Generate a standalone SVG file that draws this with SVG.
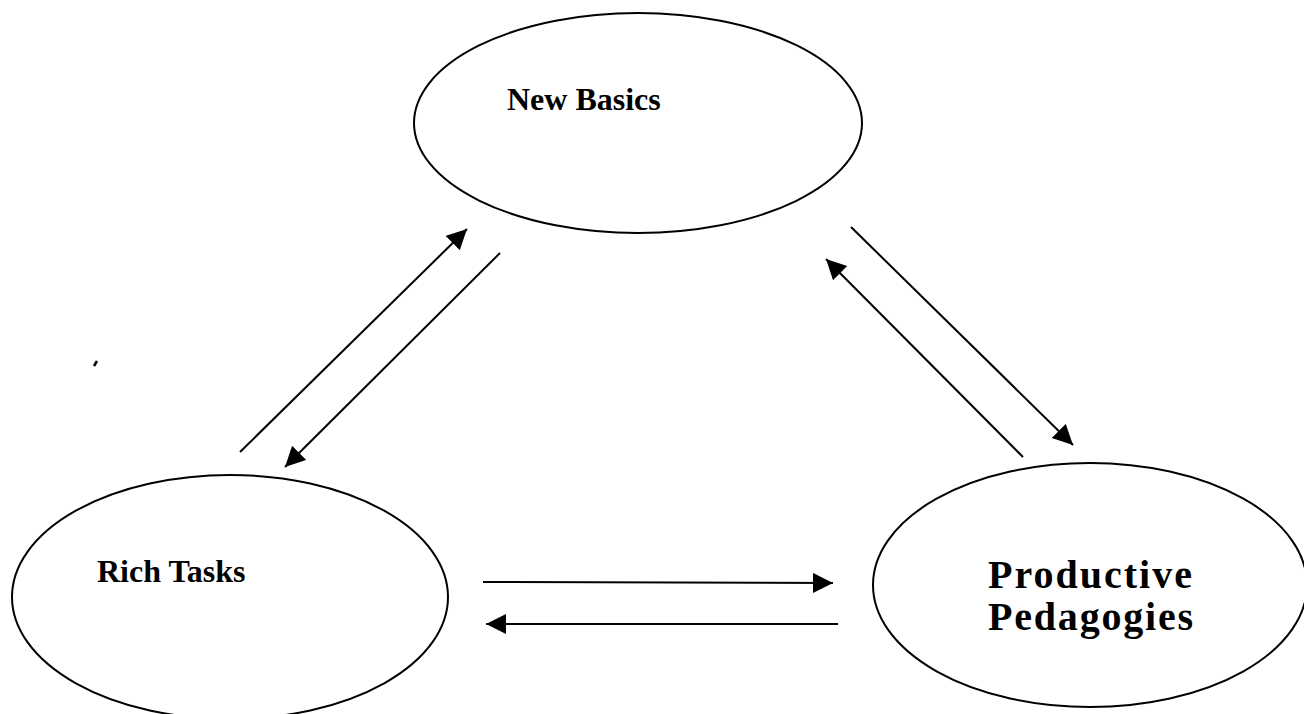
<svg xmlns="http://www.w3.org/2000/svg" width="1304" height="714" viewBox="0 0 1304 714">
<style>
.node{fill:none;stroke:#000;stroke-width:2}
.lbl{font-family:"Liberation Serif","Times New Roman",serif;font-weight:bold;fill:#000}
.conn line{stroke:#000;stroke-width:2;marker-end:url(#ah)}
</style>
<defs>
<marker id="ah" markerUnits="userSpaceOnUse" markerWidth="22" markerHeight="22" viewBox="0 0 22 22" refX="20" refY="10" orient="auto">
<path d="M0,0 L20,10 L0,20 z" fill="#000"/>
</marker>
</defs>
<rect width="1304" height="714" fill="#fff"/>
<g id="new-basics">
<ellipse class="node" cx="638" cy="123" rx="224" ry="110"/>
<text class="lbl" x="507" y="110" font-size="32">New Basics</text>
</g>
<g id="rich-tasks">
<ellipse class="node" cx="230" cy="597" rx="218" ry="122"/>
<text class="lbl" x="97" y="582" font-size="32">Rich Tasks</text>
</g>
<g id="productive-pedagogies">
<ellipse class="node" cx="1090" cy="585" rx="217" ry="122"/>
<text class="lbl" x="988" y="588" font-size="40" letter-spacing="2">Productive</text>
<text class="lbl" x="988" y="630" font-size="40" letter-spacing="1.8">Pedagogies</text>
</g>
<g id="connectors" class="conn">
<line x1="240" y1="452" x2="467" y2="229"/>
<line x1="500" y1="253" x2="285" y2="467"/>
<line x1="851" y1="227" x2="1073" y2="445"/>
<line x1="1023" y1="457" x2="826" y2="259"/>
<line x1="483" y1="582" x2="833" y2="583"/>
<line x1="838" y1="624" x2="486" y2="624"/>
</g>
<path d="M94,366 L97,361" stroke="#000" stroke-width="2.5"/>
</svg>
